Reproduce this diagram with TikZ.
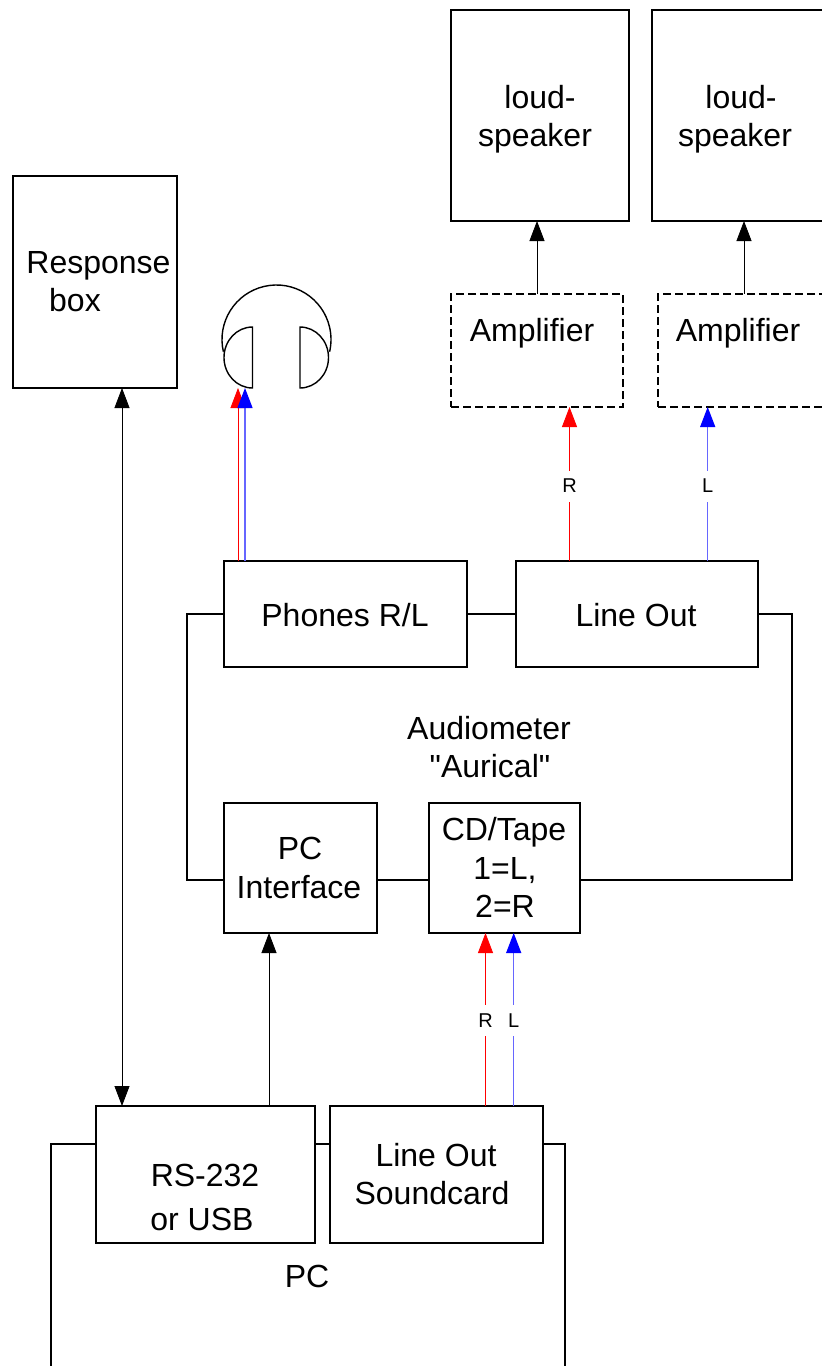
\documentclass[tikz,border=0pt]{standalone}
\usepackage{fontspec}
\setmainfont{Liberation Sans}
\newfontfamily\plainsans{Liberation Sans}
\usetikzlibrary{arrows.meta}
\tikzset{
  box/.style={draw=black,line width=1.4pt,fill=white,inner sep=0pt,outer sep=0pt,rectangle},
  dbox/.style={box,dash pattern=on 8pt off 4pt},
  txt/.style={inner sep=0pt,outer sep=0pt,anchor=base,font=\fontsize{32}{36}\selectfont},
  small/.style={inner sep=0pt,outer sep=0pt,minimum width=22pt,minimum height=31pt,fill=white,text=black,font=\fontsize{20}{22}\selectfont},
  wire/.style={line width=1.4pt,draw=black},
  sig/.style={line width=.8pt,-{Triangle[length=20pt,width=15pt]}},
  sigred/.style={line width=.8pt,color=red,-{Triangle[length=20pt,width=15pt,color=red]}},
  sigblue/.style={line width=1.2pt,color=blue!60,-{Triangle[length=20pt,width=15pt,color=blue]}},
  bisig/.style={line width=.8pt,{Triangle[length=20pt,width=15pt]}-{Triangle[length=20pt,width=15pt]}},
  phone/.style={line width=1.4pt,draw=black}
}
\newcommand{\bx}[6][box]{\node[#1,minimum width=#4-#3,minimum height=#6-#5] (#2) at ({(#3+#4)/2},{(#5+#6)/2}) {};}
\begin{document}
\begin{tikzpicture}[x=1pt,y=-1pt]
\clip (0,0) rectangle (822,1366);
\fill[white] (0,0) rectangle (822,1366);
% PC body (runs off the page)
\bx{pc}{51}{565}{1144}{1420}
\bx{loudA}{451}{629}{10}{221}
\bx{loudB}{652}{830}{10}{221}
\bx[dbox]{ampA}{451}{623}{294}{407}
\bx[dbox]{ampB}{658}{830}{294}{407}
\bx{resp}{13}{177}{176}{388}
\bx{phones}{224}{467}{561}{667}
\bx{lineout}{516}{758}{561}{667}
\bx{pcif}{224}{377}{803}{933}
\bx{cd}{429}{580}{803}{933}
\bx{rs}{96}{315}{1106}{1243}
\bx{snd}{330}{543}{1106}{1243}
% headphones
\coordinate (hp) at (276.5,339.5);
\draw[phone] (hp) ++(193:54.5pt) arc[start angle=193,end angle=-13,radius=54.5pt];
\draw[phone,fill=white] (252.5,327) arc[start angle=90,end angle=270,x radius=28.5pt,y radius=30.5pt] -- cycle;
\draw[phone,fill=white] (300,327) arc[start angle=90,end angle=-90,x radius=28.5pt,y radius=30.5pt] -- cycle;
\coordinate (hpL) at (238,388);
\coordinate (hpR) at (245,388);
% wires
\draw[wire] (phones) -- (lineout);
\draw[wire] (pcif.east |- 0,880) -- (cd.west |- 0,880);
\draw[wire] (phones.west) -- (187,0 |- phones.west) -- (187,880) -- (pcif.west |- 0,880);
\draw[wire] (lineout.east) -- (792,0 |- lineout.east) -- (792,880) -- (cd.east |- 0,880);
% signals
\draw[sig] (537,0 |- ampA.north) -- (537,0 |- loudA.south);
\draw[sig] (744,0 |- ampB.north) -- (744,0 |- loudB.south);
\draw[sigred] (569.5,0 |- lineout.north) -- (569.5,0 |- ampA.south);
\draw[sigblue] (707.7,0 |- lineout.north) -- (707.7,0 |- ampB.south);
\draw[sigred] (238,0 |- phones.north) -- (hpL);
\draw[sigblue] (245,0 |- phones.north) -- (hpR);
\draw[sig] (269,0 |- rs.north) -- (269,0 |- pcif.south);
\draw[sigred] (485.5,0 |- snd.north) -- (485.5,0 |- cd.south);
\draw[sigblue] (513.7,0 |- snd.north) -- (513.7,0 |- cd.south);
\draw[bisig] (122,0 |- resp.south) -- (122,0 |- rs.north);
% signal labels
\node[small] (lblR) at (569.5,486) {R};
\node[small] (lblL) at (707.7,486) {L};
\node[small] (lblRb) at (485.5,1020.5) {R};
\node[small] (lblLb) at (513.7,1020.5) {L};
% texts
\node[txt] (t1) at (540,108) {loud-};
\node[txt] (t2) at (535,146) {speaker};
\node[txt] (t3) at (741,108) {loud-};
\node[txt] (t4) at (735,146) {speaker};
\node[txt] (t5) at (98.5,273) {Response};
\node[txt] (t6) at (75,311) {box};
\node[txt] (t7) at (532,341) {Amplifier};
\node[txt] (t8) at (738,341) {Amplifier};
\node[txt] (t9) at (345,626) {Phones R/L};
\node[txt] (t10) at (636,626) {Line Out};
\node[txt] (t11) at (489,739) {Audiometer};
\node[txt] (t12) at (490,777) {\plainsans "Aurical"};
\node[txt] (t13) at (300,859) {PC};
\node[txt] (t14) at (299,898) {Interface};
\node[txt] (t15) at (504,840) {CD/Tape};
\node[txt] (t16) at (505,879) {1=L,};
\node[txt] (t17) at (505,917) {2=R};
\node[txt] (t18) at (205,1186) {RS-232};
\node[txt] (t19) at (202,1230) {or USB};
\node[txt] (t20) at (436,1166) {Line Out};
\node[txt] (t21) at (432,1204) {Soundcard};
\node[txt] (t22) at (307,1287) {PC};
\end{tikzpicture}
\end{document}
